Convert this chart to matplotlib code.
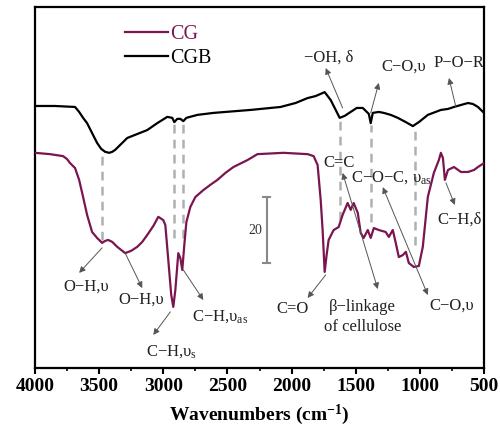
import numpy as np
import matplotlib
matplotlib.use("Agg")
import matplotlib.pyplot as plt

plt.rcParams["font.family"] = ["Liberation Serif", "DejaVu Serif"]
plt.rcParams["mathtext.fontset"] = "custom"
plt.rcParams["mathtext.rm"] = "Liberation Serif"
plt.rcParams["mathtext.it"] = "Liberation Serif:italic"
plt.rcParams["mathtext.bf"] = "Liberation Serif:bold"

# FTIR spectra (offset transmittance, arbitrary units; scale bar = 20)
cgb_wn = [4000, 3844, 3688, 3656, 3625, 3594, 3555, 3516, 3484, 3453, 3422, 3398,
          3375, 3328, 3281, 3203, 3125, 3047, 2969, 2930, 2914, 2891, 2867, 2844,
          2820, 2734, 2609, 2320, 2086, 1969, 1875, 1813, 1742, 1695, 1656, 1625,
          1586, 1539, 1492, 1445, 1398, 1383, 1367, 1320, 1281, 1227, 1172, 1109,
          1055, 1008, 938, 836, 781, 734, 680, 625, 586, 547, 500]
cgb_t = [79.4, 79.4, 79.1, 77.6, 75.8, 74.2, 71.2, 68.2, 66.4, 65.5, 65.2, 65.5,
         66.1, 67.9, 69.7, 70.9, 72.1, 74.2, 76.1, 75.8, 74.5, 75.5, 75.5, 74.8,
         75.8, 76.7, 77.3, 78.2, 79.1, 80.3, 81.8, 82.4, 83.6, 81.2, 78.2, 75.8,
         76.4, 77.6, 78.8, 78.8, 77.0, 74.2, 77.3, 77.6, 77.3, 76.7, 75.8, 74.5,
         73.3, 74.5, 76.7, 78.2, 78.5, 79.1, 79.7, 80.3, 80.0, 79.1, 77.3]

cg_wn = [4000, 3883, 3781, 3750, 3727, 3688, 3656, 3625, 3594, 3555, 3516, 3477,
         3453, 3430, 3398, 3359, 3297, 3250, 3203, 3164, 3125, 3078, 3039, 3000,
         2984, 2961, 2938, 2922, 2906, 2883, 2867, 2852, 2836, 2820, 2789, 2750,
         2688, 2633, 2578, 2516, 2453, 2344, 2305, 2266, 2063, 1875, 1828, 1797,
         1773, 1758, 1742, 1727, 1711, 1672, 1633, 1602, 1563, 1539, 1516, 1484,
         1461, 1438, 1406, 1383, 1359, 1320, 1266, 1242, 1211, 1188, 1164, 1133,
         1109, 1086, 1047, 1008, 977, 938, 891, 852, 836, 820, 805, 781, 734, 680,
         625, 578, 547, 500]
cg_t = [65.2, 64.8, 64.2, 63.3, 62.1, 60.6, 57.0, 51.8, 46.4, 41.2, 39.4, 37.9,
        38.5, 38.8, 38.2, 36.7, 34.8, 35.5, 36.7, 38.2, 40.3, 43.0, 45.8, 44.8,
        43.3, 32.7, 22.1, 18.5, 23.6, 34.8, 33.3, 29.7, 37.3, 44.2, 48.8, 51.8,
        53.9, 55.5, 57.0, 59.1, 60.9, 63.0, 63.9, 64.8, 65.2, 64.8, 64.2, 61.5,
        50.9, 41.8, 29.1, 34.2, 38.8, 41.8, 42.7, 46.4, 50.0, 47.9, 50.0, 47.0,
        40.9, 39.4, 41.8, 39.4, 42.4, 41.8, 41.2, 39.7, 41.8, 37.9, 33.6, 34.2,
        35.2, 31.8, 30.6, 30.9, 36.7, 51.8, 59.1, 63.0, 65.2, 63.6, 57.0, 60.0,
        60.9, 59.4, 59.4, 60.0, 60.9, 62.1]

# Band positions linking both spectra, with the lower end of each guide
band_wn = [3477, 2914, 2844, 1625, 1383, 1039]
band_low = [38.8, 39.4, 39.4, 44.8, 44.2, 37.3]

maroon = "#7b1550"
gray_dash = "#b0b0b0"
txt_col = "#222222"
arr_col = "#555555"

fig = plt.figure(figsize=(5.0, 4.38), dpi=100)
ax = fig.add_axes([0.070, 0.160, 0.898, 0.824])

for w, lo in zip(band_wn, band_low):
    hi = np.interp(w, cgb_wn[::-1], cgb_t[::-1])
    ax.plot([w, w], [lo, hi - 0.5], ls=(0, (3.5, 2.5)), color=gray_dash, lw=1.8,
            zorder=1)

ax.plot(cg_wn, cg_t, color=maroon, lw=1.6, label="CG", zorder=3,
        solid_joinstyle="round")
ax.plot(cgb_wn, cgb_t, color="black", lw=1.6, label="CGB", zorder=3,
        solid_joinstyle="round")

ax.set_xlim(4000, 500)
ax.set_ylim(0, 109.4)
ax.set_xticks(np.arange(4000, 499, -500))
ax.set_xticks(np.arange(3750, 500, -500), minor=True)
ax.set_yticks([])
ax.tick_params(axis="x", which="major", direction="out", length=4, width=1.5,
               labelsize=14, pad=3)
ax.tick_params(axis="x", which="minor", direction="out", length=2.5, width=1.2)
for lab in ax.get_xticklabels():
    lab.set_fontweight("bold")
for sp in ax.spines.values():
    sp.set_linewidth(1.6)

ax.set_xlabel(r"Wavenumbers (cm$^{\mathbf{-1}}$)", fontsize=14, fontweight="bold",
              labelpad=6)

leg = ax.legend(loc="upper left", bbox_to_anchor=(0.183, 0.972), frameon=False,
                fontsize=14.5, handlelength=2.1, handletextpad=0.12,
                labelspacing=0.25, borderaxespad=0.0)
for t, c in zip(leg.get_texts(), [maroon, "black"]):
    t.set_color(c)

# scale bar
ax.plot([2195, 2195], [31.8, 51.8], color="#888888", lw=1.5, zorder=2)
ax.plot([2170, 2220], [31.8, 31.8], color="#888888", lw=1.5, zorder=2)
ax.plot([2170, 2220], [51.8, 51.8], color="#888888", lw=1.5, zorder=2)
ax.text(2225, 41.8, "20", fontsize=10, color="#333333", ha="right", va="center")

fs = 12
arrow_kw = dict(arrowstyle="-|>", color=arr_col, lw=0.7, mutation_scale=9,
                shrinkA=0, shrinkB=0)
arrow2_kw = dict(arrowstyle="<|-|>", color=arr_col, lw=0.7, mutation_scale=9,
                 shrinkA=0, shrinkB=0)


def arrow(tail, head, style=arrow_kw):
    ax.annotate("", xy=head, xytext=tail, arrowprops=style, zorder=4)


def label(pos, s, ha="center"):
    ax.text(pos[0], pos[1], s, fontsize=fs, color=txt_col, ha=ha, va="center",
            zorder=5)


label((3602, 24.5), "O−H,υ")
arrow((3477, 36.4), (3656, 28.8))
label((3172, 20.6), "O−H,υ")
arrow((3297, 34.8), (3164, 24.2))
label((2937, 4.8), r"C−H,υ$_\mathrm{s}$")
arrow((2945, 17.0), (3078, 10.0))
label((2773, 15.5), r"C−H,υ$_\mathrm{as}$", ha="left")
arrow((2844, 29.7), (2688, 20.6))
label((1992, 17.9), "C=O")
arrow((1734, 28.2), (1875, 21.2))
ax.text(1445, 15.5, "β−linkage\nof cellulose", fontsize=fs, color=txt_col,
        ha="center", va="center", linespacing=1.35, zorder=5)
label((750, 18.8), "C−O,υ")
label((1633, 62.1), "C=C")
arrow((1602, 59.1), (1328, 23.9), arrow2_kw)
label((1539, 57.6), r"C−O−C, υ$_\mathrm{as}$", ha="left")
arrow((1289, 54.8), (938, 22.1), arrow2_kw)
label((688, 44.8), "C−H,δ")
arrow((797, 56.1), (727, 49.4))
label((1711, 94.2), "−OH, δ")
arrow((1602, 78.8), (1734, 90.9))
label((1125, 91.2), "C−O,υ")
arrow((1383, 77.3), (1320, 86.4))
label((500, 92.4), "P−O−R", ha="right")
arrow((719, 79.1), (773, 87.9))

fig.savefig("out.png", dpi=100)
